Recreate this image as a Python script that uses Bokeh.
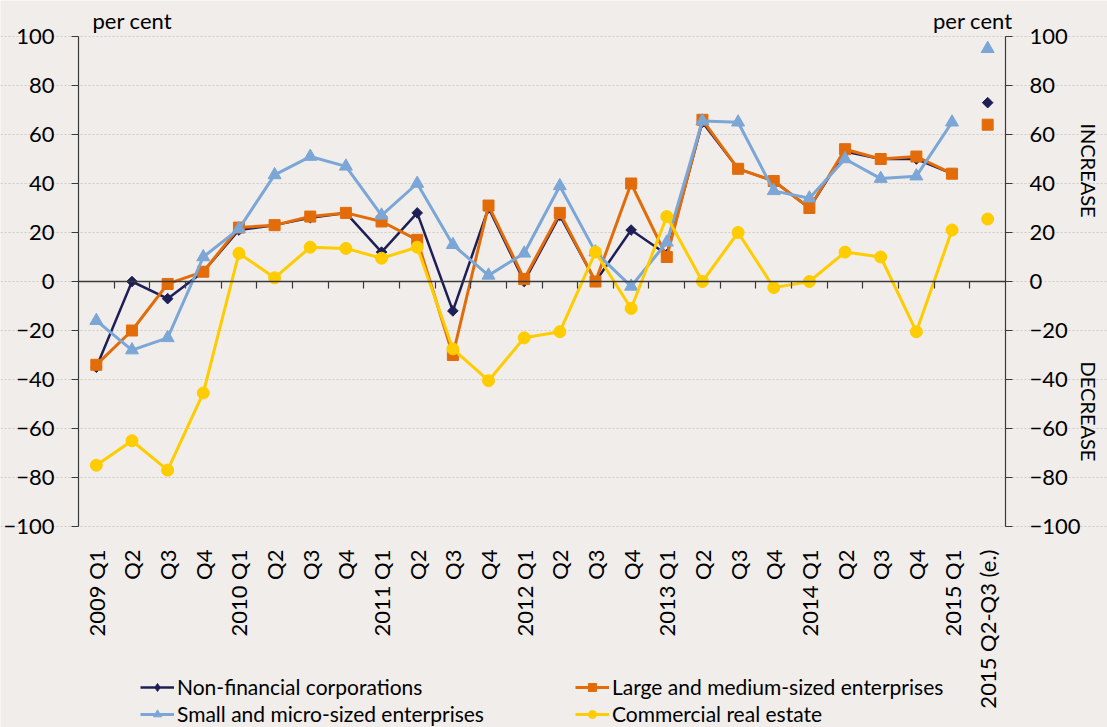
from math import pi
import numpy as np
from bokeh.plotting import figure
from bokeh.models import (Range1d, FixedTicker, LinearAxis, Label,
                          Legend, LegendItem)
from bokeh.embed import file_html
from bokeh.resources import INLINE

# ---------------- data ----------------
quarter_labels = ["2009 Q1", "Q2", "Q3", "Q4",
                  "2010 Q1", "Q2", "Q3", "Q4",
                  "2011 Q1", "Q2", "Q3", "Q4",
                  "2012 Q1", "Q2", "Q3", "Q4",
                  "2013 Q1", "Q2", "Q3", "Q4",
                  "2014 Q1", "Q2", "Q3", "Q4",
                  "2015 Q1"]
estimate_label = "2015 Q2-Q3 (e.)"

non_financial = [-35, 0, -7, 4, 21, 23, 26, 28, 12, 28, -12, 30, 0, 27, 0, 21,
                 11, 65, 46, 41, 30, 53, 50, 50, 44]
non_financial_est = 73

large_medium = [-34, -20, -1, 4, 22, 23, 26.5, 28, 24.5, 17, -30, 31, 1, 28, 0, 40,
                10, 66, 46, 41, 30, 54, 50, 51, 44]
large_medium_est = 64

small_micro = [-16, -28, -23, 10, 21.5, 43.5, 51, 47, 27, 40, 15, 2.5, 11.5, 39, 12, -2,
               16, 65.5, 65, 37, 34, 50, 42, 43, 65]
small_micro_est = 95

commercial_re = [-75, -65, -77, -45.5, 11.5, 1.5, 14, 13.5, 9.5, 14, -27.5, -40.5,
                 -23, -20.5, 12, -11, 26.5, 0, 20, -2.5, 0, 12, 10, -20.5, 21]
commercial_re_est = 25.5

y_ticks = [-100, -80, -60, -40, -20, 0, 20, 40, 60, 80, 100]

# ---------------- styles / layout ----------------
BG = "#F0EDEA"
NAVY = "#1F1F57"
ORANGE = "#E36C0A"
BLUE = "#7BA6D6"
YELLOW = "#FFCC00"
AX = "#3A3A3A"
FONT = "Lato"

W, H = 1107, 727
PLOT_L, PLOT_R, PLOT_T, PLOT_B = 78, 1005, 36, 526   # data area inside the canvas (px)

tick_labels = quarter_labels + [estimate_label]
n = len(tick_labels)
x_q = list(range(len(quarter_labels)))
x_e = [len(quarter_labels)]

x_lo, x_hi = -0.5, n - 0.5
y_lo, y_hi = y_ticks[0], y_ticks[-1]
sx = (PLOT_R - PLOT_L) / (x_hi - x_lo)
sy = (PLOT_B - PLOT_T) / (y_hi - y_lo)
x_range = Range1d(x_lo - PLOT_L / sx, x_hi + (W - PLOT_R) / sx)
y_range = Range1d(y_lo - (H - PLOT_B) / sy, y_hi + PLOT_T / sy)

p = figure(width=W, height=H, output_backend="svg", toolbar_location=None,
           x_range=x_range, y_range=y_range,
           x_axis_location=None, y_axis_location=None,
           min_border=0,
           background_fill_color=BG, border_fill_color=BG,
           outline_line_color=None)

# grid
p.xgrid.visible = False
p.ygrid.ticker = FixedTicker(ticks=y_ticks)
p.ygrid.bounds = (x_lo, x_hi)
p.ygrid.grid_line_color = "#CFCBC8"
p.ygrid.grid_line_dash = "2 2"
p.ygrid.grid_line_width = 1

# category labels under the plot area
xa = LinearAxis(fixed_location=y_lo, ticker=FixedTicker(ticks=list(range(n))))
xa.major_label_overrides = {i: lab for i, lab in enumerate(tick_labels)}
xa.major_label_orientation = pi / 2
xa.axis_line_color = None
xa.major_tick_line_color = None
xa.minor_tick_line_color = None
xa.major_label_standoff = 17
xa.major_label_text_font = FONT
xa.major_label_text_font_size = "22px"
xa.major_label_text_color = "#000000"
p.add_layout(xa, "below")

# zero axis with ticks at category boundaries
bounds = [i + 0.5 for i in range(n - 1)]
za = LinearAxis(fixed_location=0, ticker=FixedTicker(ticks=bounds), bounds=(x_lo, x_hi))
za.axis_line_color = AX
za.axis_line_width = 1.5
za.major_tick_line_color = AX
za.major_tick_line_width = 1.2
za.major_tick_out = 7
za.major_tick_in = 0
za.minor_tick_line_color = None
za.major_label_text_alpha = 0
za.major_label_text_font_size = "1px"
p.add_layout(za, "below")

# left / right y axes
ya = LinearAxis(fixed_location=x_lo)
ya2 = LinearAxis(fixed_location=x_hi)
p.add_layout(ya, "left")
p.add_layout(ya2, "right")
for a in (ya, ya2):
    a.ticker = FixedTicker(ticks=y_ticks)
    a.bounds = (y_lo, y_hi)
    a.axis_line_color = AX
    a.axis_line_width = 1.2
    a.major_tick_line_color = AX
    a.major_tick_out = 7
    a.major_tick_in = 0
    a.minor_tick_line_color = None
    a.major_label_standoff = 17
    a.major_label_text_font = FONT
    a.major_label_text_font_size = "22px"
    a.major_label_text_color = "#000000"

# series (navy bottom, yellow on top)
nfc_l = p.line(x_q, non_financial, line_color=NAVY, line_width=2.5)
p.scatter(x_q, non_financial, marker="square", angle=pi / 4, size=7.5,
          fill_color=NAVY, line_color=NAVY)
p.scatter(x_e, [non_financial_est], marker="square", angle=pi / 4, size=7.5,
          fill_color=NAVY, line_color=NAVY)
# legend-only diamond symbol (a single undefined point, never drawn in the plot)
nfc_sym = p.scatter(x=np.array([np.nan]), y=np.array([np.nan]), marker="diamond",
                    size=11, fill_color=NAVY, line_color=NAVY)

lm_l = p.line(x_q, large_medium, line_color=ORANGE, line_width=3)
lm_m = p.scatter(x_q, large_medium, marker="square", size=11,
                 fill_color=ORANGE, line_color=ORANGE)
p.scatter(x_e, [large_medium_est], marker="square", size=11,
          fill_color=ORANGE, line_color=ORANGE)

sm_l = p.line(x_q, small_micro, line_color=BLUE, line_width=3)
sm_m = p.scatter(x_q, small_micro, marker="triangle", size=13,
                 fill_color=BLUE, line_color=BLUE)
p.scatter(x_e, [small_micro_est], marker="triangle", size=13,
          fill_color=BLUE, line_color=BLUE)

cre_l = p.line(x_q, commercial_re, line_color=YELLOW, line_width=3)
cre_m = p.scatter(x_q, commercial_re, marker="circle", size=12,
                  fill_color=YELLOW, line_color=YELLOW)
p.scatter(x_e, [commercial_re_est], marker="circle", size=12,
          fill_color=YELLOW, line_color=YELLOW)

# legends (two columns)
def make_legend(items, loc):
    return Legend(items=items, location=loc, orientation="vertical",
                  background_fill_alpha=0, border_line_color=None,
                  padding=0, margin=0, spacing=2, glyph_width=34,
                  glyph_height=20, label_height=20, label_standoff=3,
                  label_text_font=FONT, label_text_font_size="21px",
                  label_text_color="#000000")

leg1 = make_legend([LegendItem(label="Non-financial corporations", renderers=[nfc_l, nfc_sym]),
                    LegendItem(label="Small and micro-sized enterprises", renderers=[sm_l, sm_m])],
                   (140, 1))
leg2 = make_legend([LegendItem(label="Large and medium-sized enterprises", renderers=[lm_l, lm_m]),
                    LegendItem(label="Commercial real estate", renderers=[cre_l, cre_m])],
                   (575, 1))
p.add_layout(leg1)
p.add_layout(leg2)

# unit labels and direction labels (screen px inside the canvas, y from bottom)
p.add_layout(Label(x=92, y=707, x_units="screen", y_units="screen", text="per cent",
                   text_font=FONT, text_font_size="22px", text_baseline="middle",
                   text_color="#000000"))
p.add_layout(Label(x=1012, y=707, x_units="screen", y_units="screen", text="per cent",
                   text_font=FONT, text_font_size="22px", text_baseline="middle",
                   text_align="right", text_color="#000000"))
p.add_layout(Label(x=1088, y=557, x_units="screen", y_units="screen", text="INCREASE",
                   angle=-pi / 2, text_font=FONT, text_font_size="20px",
                   text_align="center", text_baseline="middle", text_color="#000000"))
p.add_layout(Label(x=1088, y=316, x_units="screen", y_units="screen", text="DECREASE",
                   angle=-pi / 2, text_font=FONT, text_font_size="20px",
                   text_align="center", text_baseline="middle", text_color="#000000"))

open("out.html", "w").write(file_html(p, INLINE))
